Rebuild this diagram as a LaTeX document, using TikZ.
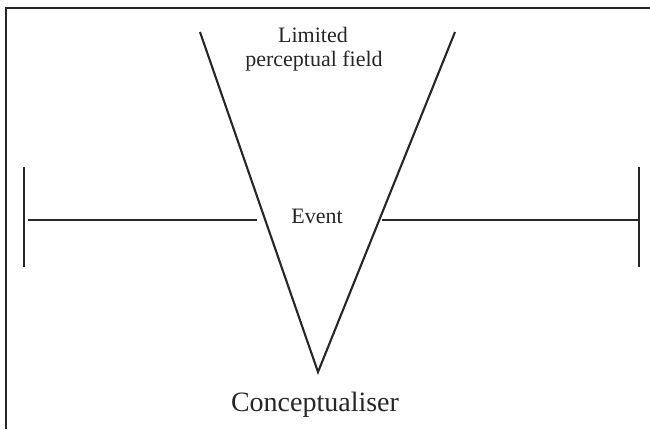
\documentclass[tikz,border=0pt]{standalone}
\usepackage{fontspec}
\setmainfont{Liberation Serif}
\begin{document}
\begin{tikzpicture}[x=1pt,y=-1pt,
  ln/.style={line width=2.1pt,draw=black!85},
  lbl/.style={anchor=base,inner sep=0pt,text=black!85,font=\fontsize{22}{26}\selectfont},
  big/.style={anchor=base,inner sep=0pt,text=black!85,font=\fontsize{28}{32}\selectfont}]
\useasboundingbox (0,0) rectangle (650,429);
% frame (top and left edges)
\coordinate (fbl) at (6,429);
\coordinate (ftl) at (6,8);
\coordinate (ftr) at (650,8);
\draw[line width=2.4pt,draw=black!85] (fbl) -- (ftl) -- (ftr);
% V
\coordinate (vl) at (200,32);
\coordinate (apex) at (318,372);
\coordinate (vr) at (455,32);
\draw[ln] (vl) -- (apex) -- (vr);
% left bar
\coordinate (lbt) at (24,167);
\coordinate (lbb) at (24,267);
\coordinate (lh1) at (28,220);
\coordinate (lh2) at (257,220);
\draw[ln] (lbt) -- (lbb);
\draw[ln] (lh1) -- (lh2);
% right bar
\coordinate (rbt) at (639,167);
\coordinate (rbb) at (639,267);
\coordinate (rh1) at (382,220);
\coordinate (rh2) at (639,220);
\draw[ln] (rbt) -- (rbb);
\draw[ln] (rh1) -- (rh2);
% texts
\node[lbl] (lim) at (313,42) {Limited};
\node[lbl] (pf) at (314,66) {perceptual field};
\node[lbl] (ev) at (317,223) {Event};
\node[big] (con) at (315,411) {Conceptualiser};
\end{tikzpicture}
\end{document}
